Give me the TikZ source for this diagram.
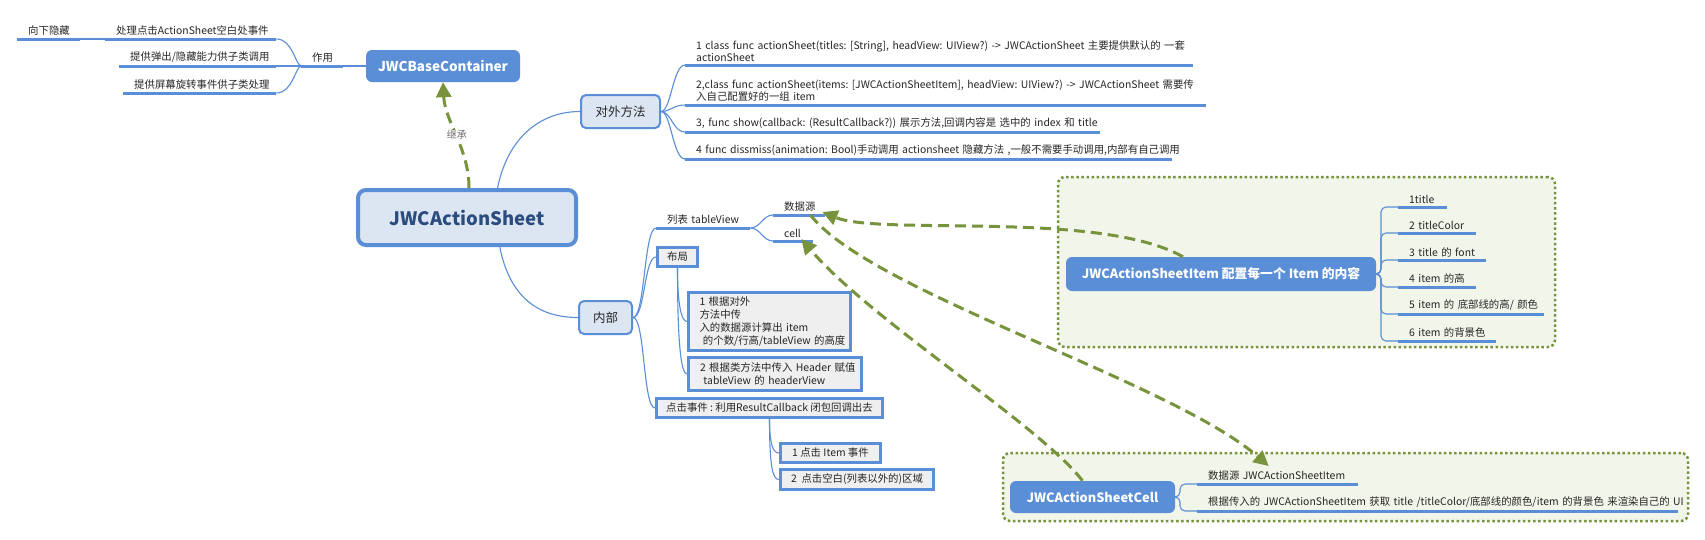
\documentclass[tikz,border=0pt]{standalone}
\usepackage{fontspec}
\setmainfont{Noto Sans CJK SC}
\usetikzlibrary{arrows.meta,calc}
\definecolor{mblue}{HTML}{5A8ED6}
\definecolor{lblue}{HTML}{DCE6F2}
\definecolor{dblue}{HTML}{2B4C7E}
\definecolor{gfill}{HTML}{EFEFEF}
\definecolor{olive}{HTML}{77933C}
\definecolor{ofill}{HTML}{F2F6EA}
\definecolor{txt}{HTML}{262626}
\definecolor{lbl}{HTML}{6E6E6E}
\newcommand{\myfs}[2]{\fontsize{#1}{#2}\selectfont}
\frenchspacing
\tikzset{
  every node/.style={font=\myfs{10.4}{12.5}, text=txt},
  topic/.style={anchor=south west, inner xsep=11pt, inner ysep=3pt, align=left, text width=#1},
  uline/.style={draw=mblue, line width=3pt},
  conn/.style={draw=mblue, line width=1.1pt},
  bluebox/.style={fill=mblue, rounded corners=6pt, text=white, font=\bfseries\myfs{13.5}{16}, inner sep=0pt},
  lightbox/.style={fill=lblue, draw=mblue, line width=2pt, rounded corners=5pt, font=\myfs{12.5}{14}, inner sep=0pt},
  greybox/.style={fill=gfill, draw=mblue, line width=3pt, inner sep=0pt, font=\myfs{10.4}{13}},
  grp/.style={fill=ofill, draw=olive, line width=2.5pt, dash pattern=on 2.5pt off 2.6pt, rounded corners=7pt, inner sep=0pt},
  garrow/.style={draw=olive, line width=3pt, dash pattern=on 11pt off 6pt, -{Triangle[length=15pt,width=15pt]}},
}
\begin{document}
\begin{tikzpicture}[x=1pt,y=-1pt]
\path[use as bounding box, fill=white] (0,0) rectangle (1705,539);
% groups
\node[grp, minimum width=497pt, minimum height=170pt] (grp1) at (1306.5,262) {};
\node[grp, minimum width=685pt, minimum height=68pt] (grp2) at (1345.5,487) {};

% main boxes
\node[bluebox, minimum width=154pt, minimum height=32pt] (base) at (443,66) {JWCBaseContainer};
\node[fill=lblue, draw=mblue, line width=4pt, rounded corners=8pt, minimum width=218pt, minimum height=55pt, text=dblue, font=\bfseries\myfs{18.5}{22}, inner sep=0pt] (main) at (467,217.5) {JWCActionSheet};
\node[lightbox, minimum width=79pt, minimum height=33pt] (dw) at (620.5,111.5) {对外方法};
\node[lightbox, minimum width=53pt, minimum height=33pt] (nb) at (605.5,317.5) {内部};
\node[greybox, minimum width=40pt, minimum height=19pt] (bj) at (677.5,257) {布局};
\node[greybox, minimum width=162pt, minimum height=58pt, align=left, text width=140pt] (g1) at (769.5,321.5) {\mbox{1 根据对外}\\方法中传\\\mbox{入的数据源计算出 item}\\\mbox{\ 的个数/行高/tableView 的高度}};
\node[greybox, minimum width=173pt, minimum height=33pt, align=left, text width=150pt] (g2) at (775,374) {\mbox{2 根据类方法中传入 Header 赋值}\\\mbox{\ tableView 的 headerView}};
\node[greybox, minimum width=226pt, minimum height=19pt] (dj) at (769.5,408) {点击事件 : 利用ResultCallback 闭包回调出去};
\node[greybox, minimum width=100pt, minimum height=19pt] (k1) at (830.5,453) {1 点击 Item 事件};
\node[greybox, minimum width=153pt, minimum height=20pt] (k2) at (857,479.5) {2\ \ 点击空白(列表以外的)区域};
\node[bluebox, minimum width=310pt, minimum height=34pt, font=\bfseries\myfs{12.8}{16}] (item) at (1221,274) {JWCActionSheetItem 配置每一个 Item 的内容};
\node[bluebox, minimum width=165pt, minimum height=32pt, font=\bfseries\myfs{12.8}{16}] (cell) at (1092.5,497) {JWCActionSheetCell};

% topics (underlined texts)
\node[topic=41pt] (thide) at (17,39) {向下隐藏};
\node[topic=149pt] (tl1) at (105,39) {\mbox{处理点击ActionSheet空白处事件}};
\node[topic=135pt] (tl2) at (119,66) {\mbox{提供弹出/隐藏能力供子类调用}};
\node[topic=131pt] (tl3) at (123,93) {\mbox{提供屏幕旋转事件供子类处理}};
\node[topic=20pt] (tzy) at (301,66) {作用};

\node[topic=486pt] (m1) at (685,65) {\mbox{1 class func actionSheet(titles: [String], headView: UIView?) -> JWCActionSheet 主要提供默认的 一套}\\actionSheet};
\node[topic=499pt] (m2) at (685,105) {\mbox{2,class func actionSheet(items: [JWCActionSheetItem], headView: UIView?) -> JWCActionSheet 需要传}\\\mbox{入自己配置好的一组 item}};
\node[topic=393pt] (m3) at (685,132) {\mbox{3, func show(callback: (ResultCallback?)) 展示方法,回调内容是 选中的 index 和 title}};
\node[topic=465pt] (m4) at (685,159) {\mbox{4 func dissmiss(animation: Bool)手动调用 actionsheet 隐藏方法 ,一般不需要手动调用,内部有自己调用}};

\node[topic=72pt] (tlist) at (656,228) {\mbox{列表 tableView}};
\node[topic=30pt] (tds) at (773,215) {数据源};
\node[topic=18pt] (tcell) at (773,241) {cell};

\node[topic=27pt] (i1) at (1398,207) {1title};
\node[topic=56pt] (i2) at (1398,233) {\mbox{2 titleColor}};
\node[topic=66pt] (i3) at (1398,260) {\mbox{3 title 的 font}};
\node[topic=56pt] (i4) at (1398,287) {\mbox{4 item 的高}};
\node[topic=124pt] (i5) at (1398,314) {\mbox{5 item 的 底部线的高/ 颜色}};
\node[topic=76pt] (i6) at (1398,341) {\mbox{6 item 的背景色}};

\node[topic=139pt] (c1) at (1197,484) {\mbox{数据源 JWCActionSheetItem}};
\node[topic=459pt] (c2) at (1197,511) {\mbox{根据传入的 JWCActionSheetItem 获取 title /titleColor/底部线的颜色/item 的背景色 来渲染自己的 UI}};

\foreach \n in {thide,tl1,tl2,tl3,tzy,m1,m2,m3,m4,tlist,tds,tcell,i1,i2,i3,i4,i5,i6,c1,c2}
  \draw[uline] (\n.south west) -- (\n.south east);

% connectors: left tree
\draw[conn] (base.west) -- (tzy.south east);
\draw[conn] (tzy.south west) -- (tl2.south east);
\draw[conn] (tzy.south west) .. controls +(-6,-2) and +(16,0) .. (tl1.south east);
\draw[conn] (tzy.south west) .. controls +(-6,2) and +(16,0) .. (tl3.south east);
\draw[conn] (tl1.south west) -- (thide.south east);

% main -> branches
\draw[conn] (main.44) .. controls +(10,-50) and +(-40,0) .. (dw.west);
\draw[conn] (main.-42) .. controls +(10,50) and +(-40,0) .. (nb.west);

% 对外方法 tree
\foreach \n in {m1,m2,m3,m4}
  \draw[conn] (dw.east) .. controls +(10,0) and +(-12,0) .. (\n.south west);

% 内部 tree
\draw[conn] (nb.east) .. controls +(12,0) and +(-12,0) .. (tlist.south west);
\draw[conn] (nb.east) .. controls +(12,0) and +(-12,0) .. (bj.west);
\draw[conn] (nb.east) .. controls +(12,0) and +(-12,0) .. (dj.west);
\draw[conn] (tlist.south east) .. controls +(10,0) and +(-10,0) .. (tds.south west);
\draw[conn] (tlist.south east) .. controls +(10,0) and +(-10,0) .. (tcell.south west);
\draw[conn] (bj.south) .. controls +(0,35) and +(-6,0) .. (g1.west);
\draw[conn] (bj.south) .. controls +(0,75) and +(-6,0) .. (g2.west);
\draw[conn] (dj.south) .. controls +(0,25) and +(-6,0) .. (k1.west);
\draw[conn] (dj.south) .. controls +(0,50) and +(-6,0) .. (k2.west);

% item bracket
\coordinate (ibr) at (1381,274);
\foreach \n in {i1,i2,i3,i4,i5,i6}
  \draw[conn, rounded corners=5pt] (item.east) -- (ibr) |- (\n.south west);
% cell bracket
\coordinate (cbr) at (1180,497);
\foreach \n in {c1,c2}
  \draw[conn, rounded corners=5pt] (cell.east) -- (cbr) |- (\n.south west);

% dashed green arrows
\draw[garrow] ($(main.north)+(2,0)$) .. controls +(0,-40) and +(2,40) .. (base.south)
  node[pos=0.5, fill=white, text=lbl, font=\myfs{10}{11}, inner sep=1pt] (jc) {继承};
\draw[garrow] ($(item.north)+(-38,0)$) .. controls +(-83,-47) and +(58,24) .. ($(tds.south east)+(-3,-3)$);
\draw[garrow] ($(tds.south east)+(-15,0)$) .. controls +(60,77) and +(-98,-85) .. ($(c1.north)+(-9,-2)$);
\draw[garrow] ($(cell.north)+(-10,0)$) .. controls +(-43,-56) and +(70,82) .. ($(tcell.south east)+(-12,-2)$);
\end{tikzpicture}
\end{document}
